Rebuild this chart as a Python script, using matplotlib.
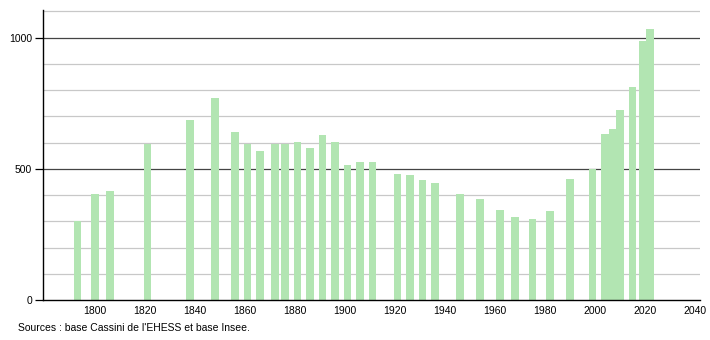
import numpy as np
import matplotlib
matplotlib.use("Agg")
from matplotlib import pyplot as plt

# census years and population
years = [1793, 1800, 1806, 1821, 1838, 1848, 1856, 1861, 1866, 1872, 1876,
         1881, 1886, 1891, 1896, 1901, 1906, 1911, 1921, 1926, 1931, 1936,
         1946, 1954, 1962, 1968, 1975, 1982, 1990, 1999, 2004, 2007, 2010,
         2015, 2019, 2022]
population = [301, 405, 417, 595, 684, 771, 642, 595, 569, 594, 594,
              602, 581, 630, 602, 515, 524, 524, 481, 477, 459, 444,
              405, 386, 342, 318, 308, 340, 460, 500, 634, 653, 725,
              810, 985, 1034]
x_ticks = [1800, 1820, 1840, 1860, 1880, 1900, 1920, 1940, 1960, 1980, 2000, 2020, 2040]
y_ticks = [0, 500, 1000]
source = "Sources : base Cassini de l'EHESS et base Insee."

plt.rcParams["font.family"] = ["Liberation Sans", "DejaVu Sans"]

fig = plt.figure(figsize=(7.1, 3.4), dpi=100)
ax = fig.add_axes([43 / 710, 40 / 340, 657 / 710, 290 / 340])

# light grid every 100, darker at 500 and 1000
for v in range(100, 1101, 100):
    if v % 500 == 0:
        ax.axhline(v, color="#444444", lw=0.9, zorder=1)
    else:
        ax.axhline(v, color="#c8c8c8", lw=0.9, zorder=1)

ax.bar(years, population, width=3.1, color="#b2e5b2", zorder=2)

ax.set_xlim(1779.2, 2042)
ax.set_ylim(0, 1105)
ax.set_xticks(x_ticks)
ax.set_yticks(y_ticks)
ax.tick_params(axis="x", length=0, labelsize=7.5, pad=4)
ax.tick_params(axis="y", length=6, width=0.9, labelsize=7.5, pad=2)
for s in ["top", "right"]:
    ax.spines[s].set_visible(False)
for s in ["left", "bottom"]:
    ax.spines[s].set_linewidth(1.0)
    ax.spines[s].set_zorder(3)

fig.text(18 / 710, 1 - 328 / 340, source, fontsize=7.5, va="center", ha="left")

fig.savefig("out.png", dpi=100)
